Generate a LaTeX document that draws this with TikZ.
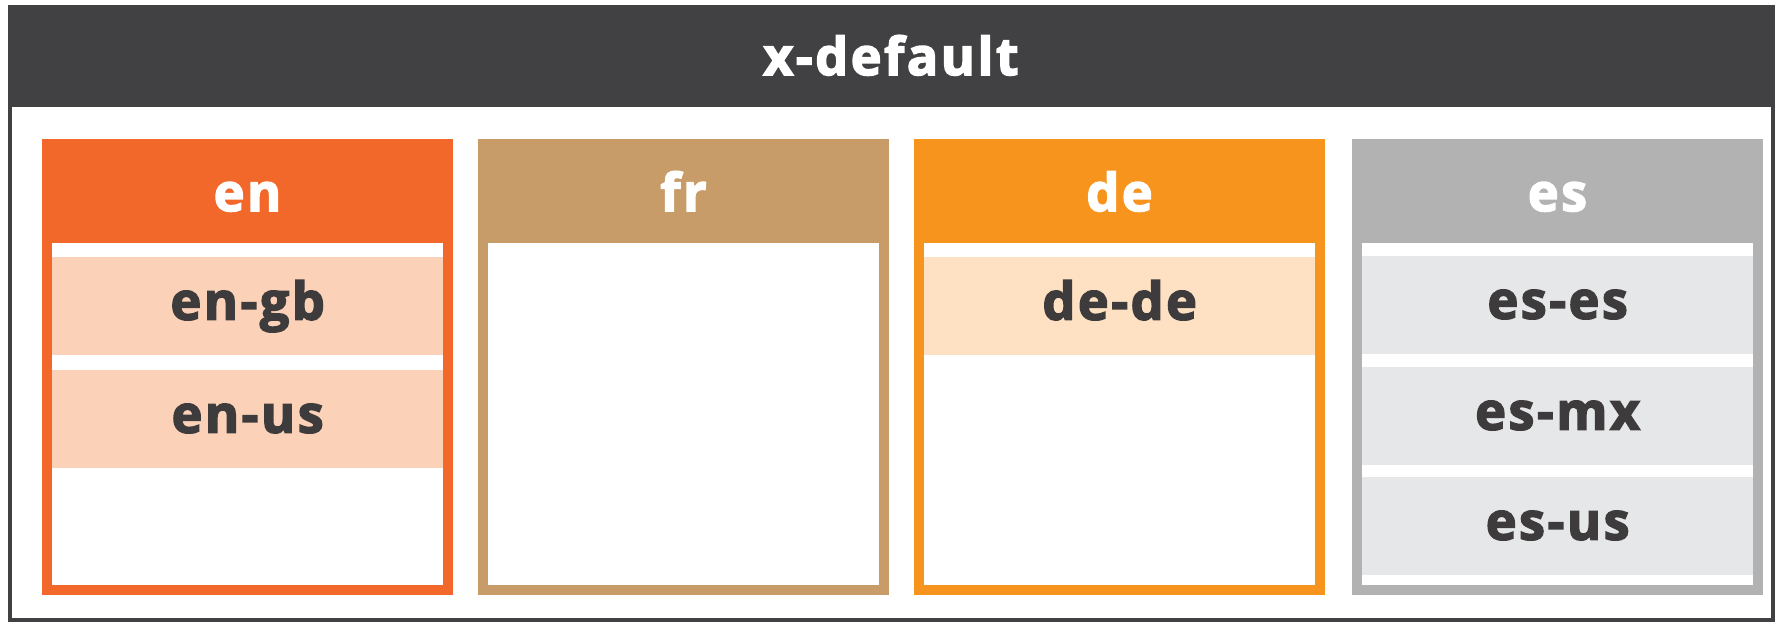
\documentclass[tikz,border=0pt]{standalone}
\usepackage{fontspec}
\newfontfamily\lblfont{Open Sans}[LetterSpace=5, BoldFeatures={FakeBold=3}]
\definecolor{frame}{HTML}{414042}
\definecolor{ink}{HTML}{3E3B3C}
\definecolor{enC}{HTML}{F2682A}
\definecolor{enRow}{HTML}{FBD2B8}
\definecolor{frC}{HTML}{C79C69}
\definecolor{deC}{HTML}{F7941E}
\definecolor{deRow}{HTML}{FEE1C2}
\definecolor{esC}{HTML}{B2B2B2}
\definecolor{esRow}{HTML}{E6E7E8}
\tikzset{
  x=1pt, y=-1pt,
  lbl/.style={font=\lblfont\bfseries\fontsize{52}{52}\selectfont},
  column/.style={fill=#1, draw=none, inner sep=0pt, minimum width=411pt, minimum height=456pt, anchor=north west},
  inner/.style={fill=white, draw=none, inner sep=0pt, minimum width=391pt, minimum height=342pt, anchor=north west},
  title/.style={lbl, text=white, inner sep=0pt, anchor=base},
  entry/.style={lbl, text=ink, fill=#1, inner sep=0pt, text height=27pt, text depth=0pt,
    minimum width=391pt, minimum height=98pt, anchor=north west},
}
\begin{document}
\begin{tikzpicture}
\useasboundingbox (0,0) rectangle (1778,624);
\fill[white] (0,0) rectangle (1778,624);
% outer frame and header bar
\draw[frame, line width=4pt] (10,7) rectangle (1773,620);
\fill[frame] (8,5) rectangle (1775,107);
\node[title] (xdef) at (891,75) {x-default};

% en
\node[column=enC] (en) at (42,139) {};
\node[inner] (enin) at (52,243) {};
\node[title] (ent) at (247.5,211) {en};
\node[entry=enRow] (engb) at (52,257) {en-gb};
\node[entry=enRow] (enus) at (52,370) {en-us};

% fr
\node[column=frC] (fr) at (478,139) {};
\node[inner] (frin) at (488,243) {};
\node[title] (frt) at (683.5,211) {fr};

% de
\node[column=deC] (de) at (914,139) {};
\node[inner] (dein) at (924,243) {};
\node[title] (det) at (1119.5,211) {de};
\node[entry=deRow] (dede) at (924,257) {de-de};

% es
\node[column=esC] (es) at (1352,139) {};
\node[inner] (esin) at (1362,243) {};
\node[title] (est) at (1557.5,211) {es};
\node[entry=esRow] (eses) at (1362,256) {es-es};
\node[entry=esRow] (esmx) at (1362,367) {es-mx};
\node[entry=esRow] (esus) at (1362,477) {es-us};
\end{tikzpicture}
\end{document}
